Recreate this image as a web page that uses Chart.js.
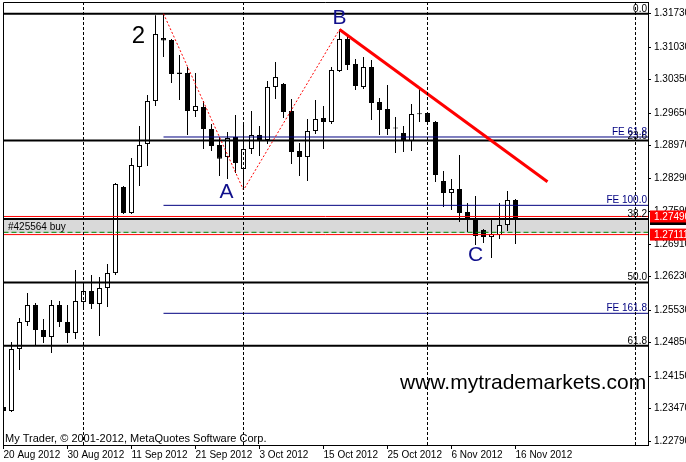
<!DOCTYPE html>
<html>
<head>
<meta charset="utf-8">
<script src="https://cdn.jsdelivr.net/npm/chart.js@4.4.1/dist/chart.umd.min.js"></script>
<style>
  html, body { margin: 0; padding: 0; background: #fff; }
  canvas { display: block; }
</style>
</head>
<body>
<canvas id="myChart" width="686" height="462"></canvas>
<script>
// EURUSD daily, 20 Aug - 16 Nov 2012 (one bar per trading day)
const opens = [1.23505, 1.23422, 1.24718, 1.25283, 1.25638, 1.25116, 1.24969, 1.25638, 1.25283, 1.25053,
  1.25701, 1.25931, 1.25659, 1.25994, 1.26307, 1.28106, 1.27562, 1.28524, 1.29005, 1.29904,
  1.31222, 1.31180, 1.30500, 1.30490, 1.29695, 1.29779, 1.29319, 1.28984, 1.28733, 1.29152,
  1.28482, 1.28901, 1.29193, 1.29089, 1.30197, 1.30260, 1.29695, 1.28859, 1.28733, 1.29277,
  1.29549, 1.29465, 1.30532, 1.31201, 1.30678, 1.30197, 1.30615, 1.29883, 1.29737, 1.29350,
  1.29235, 1.29068, 1.29650, 1.29653, 1.29465, 1.28231, 1.27980, 1.28064, 1.27583, 1.27416,
  1.27207, 1.27060, 1.27102, 1.27311, 1.27834];
const highs = [1.23693, 1.24865, 1.25366, 1.25889, 1.25680, 1.25346, 1.25743, 1.25722, 1.25638, 1.26370,
  1.26098, 1.26266, 1.26224, 1.26496, 1.28190, 1.28127, 1.28712, 1.29382, 1.30030, 1.31700,
  1.31730, 1.31201, 1.30866, 1.30615, 1.30490, 1.29904, 1.29423, 1.29152, 1.29256, 1.29612,
  1.29444, 1.29695, 1.29382, 1.30323, 1.30720, 1.30281, 1.29946, 1.29026, 1.29528, 1.29925,
  1.29800, 1.30615, 1.31400, 1.31305, 1.30783, 1.30825, 1.30762, 1.29967, 1.30239, 1.29570,
  1.29382, 1.29842, 1.30197, 1.29674, 1.29486, 1.28441, 1.28273, 1.28775, 1.27771, 1.27918,
  1.27228, 1.27437, 1.27771, 1.28022, 1.27855];
const lows = [1.22962, 1.23401, 1.24279, 1.25199, 1.24802, 1.24844, 1.24635, 1.25178, 1.24844, 1.24927,
  1.25534, 1.25555, 1.24990, 1.25596, 1.26266, 1.27541, 1.27540, 1.28127, 1.28545, 1.29800,
  1.30825, 1.30281, 1.29925, 1.29193, 1.29570, 1.28901, 1.28859, 1.28336, 1.28273, 1.28399,
  1.28043, 1.28796, 1.28754, 1.29005, 1.29946, 1.29549, 1.28587, 1.28336, 1.28231, 1.29214,
  1.28901, 1.29423, 1.30511, 1.30553, 1.30134, 1.30155, 1.29507, 1.29193, 1.29193, 1.28817,
  1.28838, 1.28859, 1.29465, 1.29444, 1.28210, 1.27688, 1.27625, 1.27374, 1.27165, 1.26893,
  1.26935, 1.26621, 1.27018, 1.27186, 1.26914];
const closes = [1.23422, 1.24718, 1.25283, 1.25638, 1.25116, 1.24969, 1.25638, 1.25283, 1.25053, 1.25722,
  1.25931, 1.25659, 1.25994, 1.26307, 1.28169, 1.27562, 1.28566, 1.28984, 1.29904, 1.31305,
  1.31170, 1.30469, 1.30470, 1.29695, 1.29800, 1.29319, 1.28963, 1.28698, 1.29131, 1.28608,
  1.28901, 1.29193, 1.29089, 1.30197, 1.30406, 1.29674, 1.28838, 1.28733, 1.29277, 1.29528,
  1.29465, 1.30553, 1.31201, 1.30657, 1.30218, 1.30615, 1.29863, 1.29716, 1.29319, 1.29330,
  1.29089, 1.29633, 1.29630, 1.29465, 1.28357, 1.27980, 1.28064, 1.27562, 1.27416, 1.27081,
  1.27060, 1.27123, 1.27311, 1.27834, 1.27460];

const dateIdx = [0, 8, 16, 24, 32, 40, 48, 56, 64];
const dateLabels = ['20 Aug 2012', '30 Aug 2012', '11 Sep 2012', '21 Sep 2012', '3 Oct 2012',
  '15 Oct 2012', '25 Oct 2012', '6 Nov 2012', '16 Nov 2012'];
const priceTicks = [1.31730, 1.31030, 1.30350, 1.29650, 1.28970, 1.28290, 1.27590,
  1.26910, 1.26230, 1.25530, 1.24850, 1.24150, 1.23470, 1.22790];
const sepIdx = [10, 30, 53, 79];

// fibo retracement + expansion
const fibLevels = [1.31730, 1.29078, 1.27437, 1.26111, 1.24785];
const fibLabels = ['0.0', '23.6', '38.2', '50.0', '61.8'];
const feLevels = [1.29152, 1.27723, 1.25465];
const feLabels = ['FE 61.8', 'FE 100.0', 'FE 161.8'];
const feStart = 20;

// 2 - A - B zigzag and B trendline
const zigIdx = [20, 30, 42];
const zigPrice = [1.31730, 1.28043, 1.31400];
const trendIdx = [42, 68];
const trendPrice = [1.31400, 1.28217];

// order / price lines
const redLevels = [1.27490, 1.27111];
const buyLevel = 1.27159;
const bandTop = 1.27437, bandBottom = 1.27140;
const pxPerUnit = 4782;

const yMax = 1.31975;
const yMin = yMax - 443 / pxPerUnit;

let ctx = document.getElementById('myChart');

function hline(price, from, color, width, order, dash) {
  return {
    type: 'line',
    data: [{ x: from, y: price }, { x: 90, y: price }],
    borderColor: color,
    borderWidth: width,
    borderDash: dash || [],
    pointRadius: 0,
    fill: false,
    clip: 0,
    order: order
  };
}

let datasets = [];

datasets.push({
  type: 'line',
  data: [{ x: -1, y: bandTop }, { x: 90, y: bandTop }],
  borderWidth: 0,
  pointRadius: 0,
  backgroundColor: '#d9d9d9',
  fill: { value: bandBottom },
  clip: 0,
  order: 20
});

datasets.push({
  type: 'bar',
  data: lows.map((l, i) => ({ x: i, y: [l, highs[i]] })),
  backgroundColor: '#000',
  borderWidth: 0,
  grouped: false,
  maxBarThickness: 1,
  barPercentage: 1,
  categoryPercentage: 1,
  inflateAmount: 0,
  clip: 0,
  order: 15
});

datasets.push({
  type: 'bar',
  data: opens.map((o, i) => ({ x: i, y: [o, closes[i]] })),
  backgroundColor: opens.map((o, i) => closes[i] >= o ? '#fff' : '#000'),
  borderColor: '#000',
  borderWidth: 1,
  borderSkipped: false,
  grouped: false,
  maxBarThickness: 5,
  barPercentage: 1,
  categoryPercentage: 1,
  minBarLength: 1,
  inflateAmount: 0,
  clip: 0,
  order: 14
});

fibLevels.forEach(v => datasets.push(hline(v, -1, '#000', 2, 6)));
feLevels.forEach(v => datasets.push(hline(v, feStart, '#000080', 1, 5)));
redLevels.forEach(v => datasets.push(hline(v, -1, '#ff0000', 1, 4)));
datasets.push(hline(buyLevel, -1, '#008000', 1, 4, [5, 3]));

datasets.push({
  type: 'line',
  data: zigIdx.map((v, i) => ({ x: v, y: zigPrice[i] })),
  borderColor: '#ff0000',
  borderWidth: 1,
  borderDash: [2, 2],
  pointRadius: 0,
  fill: false,
  clip: 0,
  order: 3
});

datasets.push({
  type: 'line',
  data: trendIdx.map((v, i) => ({ x: v, y: trendPrice[i] })),
  borderColor: '#ff0000',
  borderWidth: 3,
  pointRadius: 0,
  fill: false,
  clip: 0,
  order: 2
});

const overlay = {
  id: 'overlay',
  afterDatasetsDraw(chart) {
    const { ctx, chartArea: a, scales: { x, y } } = chart;
    ctx.save();
    ctx.beginPath();
    ctx.rect(a.left, a.top, a.right - a.left, a.bottom - a.top);
    ctx.clip();

    ctx.strokeStyle = '#000';
    ctx.lineWidth = 1;
    ctx.setLineDash([3, 2]);
    sepIdx.forEach(i => {
      const px = x.getPixelForValue(i);
      ctx.beginPath();
      ctx.moveTo(px, a.top);
      ctx.lineTo(px, a.bottom);
      ctx.stroke();
    });
    ctx.setLineDash([]);

    ctx.font = '10px "Liberation Sans"';
    ctx.textAlign = 'right';
    ctx.textBaseline = 'alphabetic';
    ctx.fillStyle = '#000';
    fibLevels.forEach((v, k) => ctx.fillText(fibLabels[k], a.right - 1, y.getPixelForValue(v) - 2));
    ctx.fillStyle = '#000080';
    feLevels.forEach((v, k) => ctx.fillText(feLabels[k], a.right - 1, y.getPixelForValue(v) - 2));

    ctx.textAlign = 'left';
    ctx.fillStyle = '#000';
    ctx.fillText('#425564 buy', a.left + 5, y.getPixelForValue(buyLevel) - 2);

    // wave labels
    ctx.font = '24px "Liberation Sans"';
    ctx.textAlign = 'center';
    ctx.fillStyle = '#000';
    ctx.fillText('2', x.getPixelForValue(zigIdx[0]) - 25, y.getPixelForValue(zigPrice[0]) + 29);
    ctx.font = '21px "Liberation Sans"';
    ctx.fillStyle = '#10108c';
    ctx.fillText('A', x.getPixelForValue(zigIdx[1]) - 17, y.getPixelForValue(zigPrice[1]) + 8);
    ctx.fillText('B', x.getPixelForValue(zigIdx[2]), y.getPixelForValue(zigPrice[2]) - 5);
    ctx.fillText('C', x.getPixelForValue(59), y.getPixelForValue(lows[59]) + 16);

    ctx.textAlign = 'left';
    ctx.fillStyle = '#000';
    ctx.font = '21px "Liberation Sans"';
    ctx.fillText('www.mytrademarkets.com', 400, 389);
    ctx.font = '11px "Liberation Sans"';
    ctx.fillText('My Trader, \u00a9 2001-2012, MetaQuotes Software Corp.', a.left + 2, a.bottom - 3);
    ctx.restore();
  },
  afterDraw(chart) {
    const { ctx, chartArea: a, scales: { y } } = chart;
    ctx.save();
    ctx.strokeStyle = '#000';
    ctx.lineWidth = 1;
    ctx.beginPath();
    ctx.moveTo(a.left + 0.5, a.bottom);
    ctx.lineTo(a.left + 0.5, a.top + 0.5);
    ctx.lineTo(a.right, a.top + 0.5);
    ctx.stroke();

    // price labels on the axis
    const boxL = a.right + 2, boxW = 686 - boxL;
    let yb = y.getPixelForValue(fibLevels[2]);
    ctx.fillStyle = '#000';
    ctx.fillRect(boxL, yb - 6, boxW, 12);
    ctx.font = '10px "Liberation Sans"';
    ctx.textBaseline = 'middle';
    redLevels.forEach(v => {
      const py = y.getPixelForValue(v);
      ctx.fillStyle = '#ff0000';
      ctx.fillRect(boxL, py - 6, boxW, 12);
      ctx.fillStyle = '#fff';
      ctx.fillText(v.toFixed(5), a.right + 6, py + 0.5);
    });
    ctx.restore();
  }
};

let myChart = new Chart(ctx, {
  type: 'bar',
  data: { datasets: datasets },
  options: {
    responsive: false,
    animation: false,
    events: [],
    layout: { padding: { left: 3, top: 2, right: 0, bottom: 0 } },
    plugins: { legend: { display: false }, tooltip: { enabled: false } },
    scales: {
      x: {
        type: 'linear',
        min: -0.0625,
        max: 80.5625,
        offset: false,
        grid: { display: true, offset: false, drawOnChartArea: false, drawTicks: true, tickLength: 4, color: '#000' },
        border: { display: true, color: '#000' },
        ticks: {
          autoSkip: false, maxRotation: 0, minRotation: 0, align: 'start', padding: 0,
          color: '#000', font: { family: 'Liberation Sans', size: 10 },
          callback: (v, i) => dateLabels[i]
        },
        afterBuildTicks: s => { s.ticks = dateIdx.map(v => ({ value: v })); },
        afterFit: s => { s.height = 17; s.paddingLeft = 0; s.paddingRight = 0; }
      },
      y: {
        type: 'linear',
        position: 'right',
        min: yMin,
        max: yMax,
        grid: { display: true, drawOnChartArea: false, drawTicks: true, tickLength: 3, color: '#000' },
        border: { display: true, color: '#000' },
        ticks: {
          autoSkip: false, padding: 3, color: '#000',
          font: { family: 'Liberation Sans', size: 10 },
          callback: v => v.toFixed(5)
        },
        afterBuildTicks: s => { s.ticks = priceTicks.map(v => ({ value: v })); },
        afterFit: s => { s.width = 38; s.paddingTop = 0; s.paddingBottom = 0; }
      }
    }
  },
  plugins: [overlay]
});
</script>
</body>
</html>
